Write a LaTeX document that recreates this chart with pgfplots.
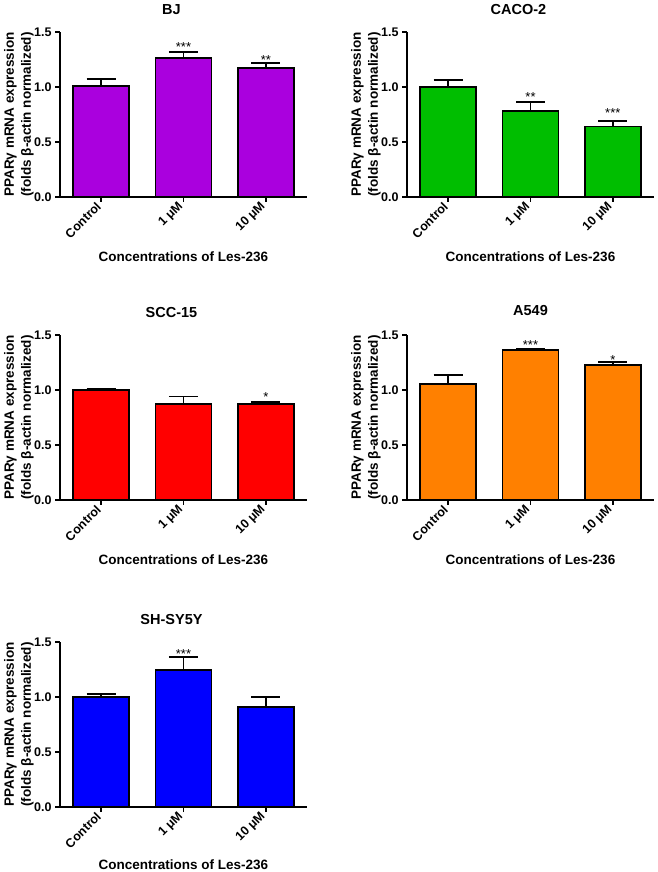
\documentclass[border=0pt]{standalone}
\usepackage{fontspec}
\setmainfont{Liberation Sans}
\usepackage{pgfplots}
\pgfplotsset{compat=1.18}

\definecolor{bjcol}{RGB}{170,0,222}
\definecolor{cacocol}{RGB}{0,190,0}
\definecolor{scccol}{RGB}{255,0,0}
\definecolor{a549col}{RGB}{255,128,0}
\definecolor{shcol}{RGB}{0,0,255}

\pgfplotsset{
  panel/.style={
    scale only axis, width=247pt, height=165pt,
    anchor=south west,
    xmin=-0.5, xmax=2.5, ymin=0, ymax=1.5,
    axis lines*=left,
    axis line style={line width=1.8pt},
    tick align=outside, major tick length=5pt,
    tick style={line width=1.5pt, black},
    xtick={0,1,2}, xticklabels={Control,1 μM,10 μM},
    ytick={0,0.5,1,1.5}, yticklabels={0.0,0.5,1.0,1.5},
    xticklabel style={rotate=45, anchor=east, font=\fontsize{12.5}{14}\selectfont\bfseries},
    yticklabel style={font=\fontsize{12.5}{14}\selectfont\bfseries},
    xlabel={Concentrations of Les-236},
    xlabel style={at={([yshift=-60pt]axis description cs:0.5,0)}, anchor=center,
      font=\fontsize{13.5}{16}\selectfont\bfseries},
    ylabel={PPARγ mRNA expression\\(folds β-actin normalized)},
    ylabel style={at={([xshift=-41pt]axis description cs:0,0.5)}, anchor=center,
      align=center, font=\fontsize{13.5}{17}\selectfont\bfseries},
    title style={at={([xshift=-12pt,yshift=16pt]axis description cs:0.5,1)}, anchor=center,
      font=\fontsize{14.5}{16}\selectfont\bfseries},
    every node near coord/.append style={font=\fontsize{13}{13}\selectfont, inner sep=0pt},
  },
  bars/.style={ybar, bar width=0.68, fill=#1, draw=black, line width=1.8pt,
    error bars/.cd, y dir=plus, y explicit,
    error bar style={line width=1.8pt, black},
    error mark options={rotate=90, mark size=14.5pt, line width=1.8pt, black}},
  stars/.style={draw=none, mark=none, nodes near coords, point meta=explicit symbolic},
}

\begin{document}
\begin{tikzpicture}
\path[use as bounding box] (0,0) rectangle (657pt,872pt);

% BJ
\begin{axis}[panel, at={(60pt,675pt)}, title={BJ}]
\addplot[bars=bjcol] coordinates {
  (0,1.010) +- (0,0.060)
  (1,1.260) +- (0,0.058)
  (2,1.176) +- (0,0.042)
};
\addplot[stars] coordinates {(1,1.320) [***] (2,1.207) [**]};
\end{axis}

% CACO-2
\begin{axis}[panel, at={(407pt,675pt)}, title={CACO-2}]
\addplot[bars=cacocol] coordinates {
  (0,1.003) +- (0,0.057)
  (1,0.785) +- (0,0.079)
  (2,0.640) +- (0,0.048)
};
\addplot[stars] coordinates {(1,0.870) [**] (2,0.724) [***]};
\end{axis}

% SCC-15
\begin{axis}[panel, at={(60pt,372pt)}, title={SCC-15}]
\addplot[bars=scccol] coordinates {
  (0,1.000) +- (0,0.009)
  (1,0.876) +- (0,0.064)
  (2,0.873) +- (0,0.015)
};
\addplot[stars] coordinates {(2,0.898) [*]};
\end{axis}

% A549
\begin{axis}[panel, at={(407pt,372pt)}, title={A549},
  title style={at={([yshift=18pt]axis description cs:0.5,1)}}]
\addplot[bars=a549col] coordinates {
  (0,1.052) +- (0,0.082)
  (1,1.361) +- (0,0.012)
  (2,1.230) +- (0,0.022)
};
\addplot[stars] coordinates {(1,1.367) [***] (2,1.228) [*]};
\end{axis}

% SH-SY5Y
\begin{axis}[panel, at={(60pt,65pt)}, title={SH-SY5Y},
  xlabel style={at={([yshift=-58pt]axis description cs:0.5,0)}}]
\addplot[bars=shcol] coordinates {
  (0,1.000) +- (0,0.030)
  (1,1.249) +- (0,0.115)
  (2,0.909) +- (0,0.091)
};
\addplot[stars] coordinates {(1,1.352) [***]};
\end{axis}
\end{tikzpicture}
\end{document}
